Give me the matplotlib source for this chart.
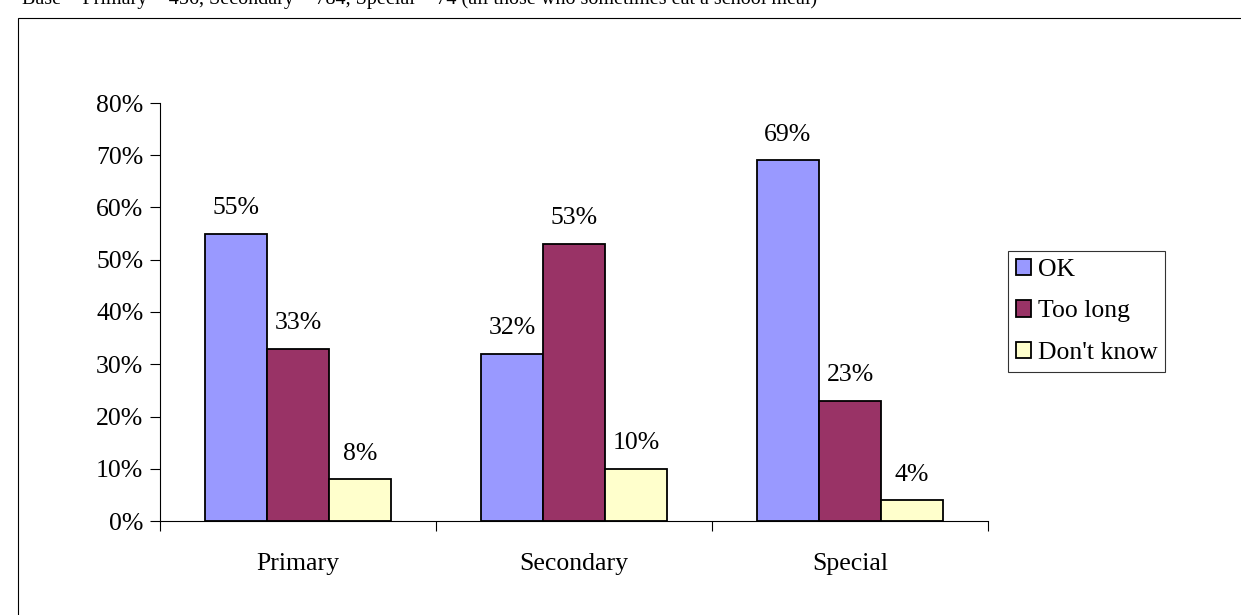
import matplotlib
matplotlib.use('Agg')
import matplotlib.pyplot as plt
import numpy as np
from matplotlib.patches import Rectangle

# Data
categories = ['Primary', 'Secondary', 'Special']
series_names = ['OK', 'Too long', "Don't know"]
ok_values = [55, 32, 69]
too_long_values = [33, 53, 23]
dont_know_values = [8, 10, 4]
y_ticks = [0, 10, 20, 30, 40, 50, 60, 70, 80]
base_note = 'Base = Primary = 456, Secondary = 784, Special = 74 (all those who sometimes eat a school meal)'

colors = ['#9999FF', '#993366', '#FFFFCC']
fs = 18.5

plt.rcParams['font.family'] = ['Liberation Serif', 'DejaVu Serif']

W, H = 1241, 615
fig = plt.figure(figsize=(W / 100, H / 100), dpi=100)

# Outer frame
fig.patches.append(Rectangle((18 / W, -0.05), 1.2, 1 - 18 / H + 0.05,
                             transform=fig.transFigure, fill=False,
                             edgecolor='black', linewidth=0.8))

# Base note (cut off at top as in the source)
fig.text(22 / W, 1 - 4 / H, base_note, ha='left', va='baseline', fontsize=14.5)

ax = fig.add_axes([160 / W, 1 - 521 / H, 828 / W, 418 / H])

x = np.arange(len(categories))
width = 0.225
all_series = [ok_values, too_long_values, dont_know_values]
for i, (name, vals, col) in enumerate(zip(series_names, all_series, colors)):
    pos = x + (i - 1) * width
    ax.bar(pos, vals, width=width, color=col, edgecolor='black',
           linewidth=1.3, label=name)
    for px, v in zip(pos, vals):
        ax.annotate(f'{v}%', (px, v), xytext=(0, 10.5), textcoords='offset points',
                    ha='center', va='bottom', fontsize=fs)

ax.set_xlim(-0.5, len(categories) - 0.5)
ax.set_ylim(0, 80)
ax.set_yticks(y_ticks)
ax.set_yticklabels([f'{t}%' for t in y_ticks])

ax.set_xticks(np.arange(len(categories) + 1) - 0.5)
ax.set_xticklabels([])
ax.set_xticks(x, minor=True)
ax.set_xticklabels(categories, minor=True)
ax.tick_params(axis='x', which='minor', length=0, pad=23, labelsize=fs)
ax.tick_params(axis='x', which='major', direction='out', length=7, width=0.8)
ax.tick_params(axis='y', direction='out', length=7, width=0.8, labelsize=fs, pad=5)

for s in ['top', 'right']:
    ax.spines[s].set_visible(False)
for s in ['left', 'bottom']:
    ax.spines[s].set_linewidth(0.8)

leg = ax.legend(loc='upper left', bbox_to_anchor=(1008 / W, 1 - 251 / H),
                bbox_transform=fig.transFigure, frameon=True, fancybox=False,
                edgecolor='black', fontsize=fs, handlelength=0.6,
                handleheight=0.6, handletextpad=0.25, borderpad=0.3,
                labelspacing=0.75, borderaxespad=0)
leg.get_frame().set_linewidth(0.8)

fig.savefig('out.png', dpi=100)
